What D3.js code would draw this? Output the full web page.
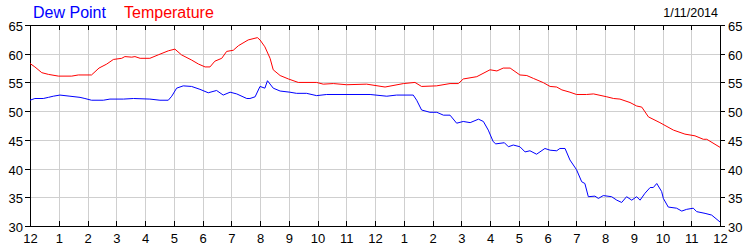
<!DOCTYPE html>
<meta charset="utf-8">
<style>
body { margin: 0; background: #fff; }
svg { font-family: "Liberation Sans", Arial, sans-serif; }
.grid line { stroke: #cfcfcf; shape-rendering: crispEdges; }
.axis text { font-size: 13px; fill: #000; }
.axis line { stroke: #000; shape-rendering: crispEdges; }
</style>
<svg id="chart" width="750" height="250"></svg>
<script src="https://cdnjs.cloudflare.com/ajax/libs/d3/7.8.5/d3.min.js"></script>
<script>

// hour labels along the bottom, midnight to midnight
var hourLabels = [12,1,2,3,4,5,6,7,8,9,10,11,12,1,2,3,4,5,6,7,8,9,10,11,12];
var tempTicks = [30,35,40,45,50,55,60,65];
var chartDate = "1/11/2014";

// temperature readings (hours since midnight, degrees F)
var tempHours = [0,0.17,0.41,0.64,0.99,1.45,1.68,2.14,2.4,2.67,2.9,3.19,3.3,3.54,3.65,3.83,4.17,4.46,4.81,5.04,
  5.27,5.62,5.86,6.09,6.26,6.43,6.67,6.84,7.07,7.25,7.59,7.91,8.0,8.17,8.35,8.46,8.7,8.99,9.33,9.97,
  10.2,10.55,11.01,11.71,12.35,12.99,13.39,13.62,14.14,14.61,14.9,15.07,15.54,16.0,16.24,16.46,16.7,17.04,17.28,17.51,
  17.86,18.09,18.32,18.5,18.78,19.01,19.36,19.6,20.06,20.3,20.52,20.87,21.1,21.28,21.51,21.91,22.38,22.78,23.13,23.42,23.54,24];
var tempValues = [58.3,57.7,56.7,56.4,56.1,56.1,56.3,56.3,57.5,58.2,59.0,59.2,59.5,59.4,59.5,59.2,59.2,59.8,60.5,60.8,
  59.8,58.9,58.2,57.7,57.7,58.7,59.2,60.4,60.6,61.4,62.4,62.8,62.4,61.2,59.2,57.2,56.2,55.6,55.0,55.0,
  54.7,54.8,54.6,54.7,54.2,54.8,55.0,54.3,54.4,54.8,54.8,55.6,56.0,57.2,57.0,57.5,57.5,56.3,56.2,55.7,
  54.95,54.3,54.2,53.7,53.3,52.9,52.9,53.0,52.5,52.2,52.1,51.5,50.9,50.7,49.0,48.0,46.7,46.0,45.7,45.1,45.1,43.7];

// dew point readings
var dewHours = [0,0.17,0.46,0.64,0.81,1.04,1.39,1.74,1.91,2.14,2.55,2.78,3.25,3.6,4.17,4.52,4.81,4.93,5.1,5.33,
  5.62,5.91,6.2,6.49,6.72,6.96,7.19,7.54,7.65,7.83,8.0,8.17,8.26,8.46,8.7,9.04,9.27,9.62,9.97,10.32,
  11.13,11.83,12.41,12.75,13.33,13.45,13.62,13.91,14.15,14.38,14.61,14.84,15.07,15.31,15.6,15.77,15.94,16.11,16.2,16.5,
  16.64,16.81,17.04,17.22,17.39,17.62,17.91,18.09,18.32,18.43,18.61,18.78,19.01,19.19,19.3,19.42,19.65,19.77,19.94,20.23,
  20.41,20.58,20.75,20.93,21.1,21.22,21.39,21.57,21.68,21.8,21.97,22.03,22.2,22.49,22.67,22.84,23.07,23.19,23.48,23.71,24];
var dewValues = [51.9,52.2,52.2,52.4,52.6,52.8,52.6,52.4,52.2,51.9,51.9,52.1,52.1,52.2,52.1,51.9,51.9,52.6,54.0,54.4,
  54.3,53.8,53.2,53.6,52.8,53.3,53.0,52.2,52.2,52.5,54.3,54.0,55.3,54.0,53.5,53.3,53.1,53.1,52.7,52.9,
  52.9,52.9,52.6,52.8,52.8,51.9,50.2,49.8,49.8,49.3,49.3,47.9,48.2,48.0,48.6,48.2,46.7,44.7,44.3,44.5,
  43.8,44.1,43.8,42.9,43.1,42.5,43.5,43.2,43.1,43.5,43.5,41.5,39.8,37.7,37.4,35.1,35.2,34.8,35.3,35.1,
  34.5,34.1,35.1,34.5,35.1,34.5,35.7,36.7,36.7,37.4,36.0,34.8,33.3,33.1,32.6,32.9,33.1,32.5,32.2,31.9,30.7];

var svg = d3.select("#chart"),
    margin = {top: 25, right: 30, bottom: 24, left: 30},
    width = +svg.attr("width") - margin.left - margin.right,
    height = +svg.attr("height") - margin.top - margin.bottom;

var x = d3.scaleLinear().domain([0, 24]).range([margin.left, margin.left + width]);
var y = d3.scaleLinear().domain([30, 65]).range([margin.top + height, margin.top]);

// grid
var grid = svg.append("g").attr("class", "grid");
grid.selectAll("line.v")
  .data(d3.range(1, 24))
  .enter().append("line")
  .attr("x1", function(d) { return Math.round(x(d)) + 0.5; })
  .attr("x2", function(d) { return Math.round(x(d)) + 0.5; })
  .attr("y1", y(65)).attr("y2", y(30));
grid.selectAll("line.h")
  .data(tempTicks.slice(1, -1))
  .enter().append("line")
  .attr("x1", x(0)).attr("x2", x(24))
  .attr("y1", function(d) { return Math.round(y(d)) + 0.5; })
  .attr("y2", function(d) { return Math.round(y(d)) + 0.5; });

// axes
svg.append("g")
  .attr("class", "axis")
  .attr("transform", "translate(0," + y(30) + ")")
  .call(d3.axisBottom(x).tickValues(d3.range(25)).tickFormat(function(d) { return hourLabels[d]; })
    .tickSize(-5).tickPadding(8))
  .call(function(g) { g.select(".domain").remove(); });

svg.append("g")
  .attr("class", "axis")
  .attr("transform", "translate(0," + y(65) + ")")
  .call(d3.axisTop(x).tickValues(d3.range(25)).tickFormat("").tickSize(-5))
  .call(function(g) { g.select(".domain").remove(); });

svg.append("g")
  .attr("class", "axis")
  .attr("transform", "translate(" + x(0) + ",0)")
  .call(d3.axisLeft(y).tickValues(tempTicks).tickSize(5).tickPadding(2))
  .call(function(g) { g.select(".domain").remove(); g.selectAll("text").attr("dy", "0.42em"); });

svg.append("g")
  .attr("class", "axis")
  .attr("transform", "translate(" + x(24) + ",0)")
  .call(d3.axisRight(y).tickValues(tempTicks).tickSize(5).tickPadding(3))
  .call(function(g) { g.select(".domain").remove(); g.selectAll("text").attr("dy", "0.42em"); });

// frame
svg.append("rect")
  .attr("x", x(0) + 0.5).attr("y", y(65) + 0.5)
  .attr("width", x(24) - x(0)).attr("height", y(30) - y(65))
  .attr("fill", "none").attr("stroke", "#000")
  .attr("shape-rendering", "crispEdges");

// series
var line = d3.line()
  .x(function(d) { return x(d[0]); })
  .y(function(d) { return y(d[1]); });

svg.append("path")
  .datum(d3.zip(tempHours, tempValues))
  .attr("fill", "none").attr("stroke", "#ff0000").attr("stroke-width", 1)
  .attr("d", line);

svg.append("path")
  .datum(d3.zip(dewHours, dewValues))
  .attr("fill", "none").attr("stroke", "#0000ff").attr("stroke-width", 1)
  .attr("d", line);

// legend and date
svg.append("text").attr("x", 33).attr("y", 18)
  .style("font-size", "16px").attr("fill", "#0000ff").text("Dew Point");
svg.append("text").attr("x", 124).attr("y", 18)
  .style("font-size", "16px").attr("fill", "#ff0000").text("Temperature");
svg.append("text").attr("x", 718).attr("y", 17)
  .attr("text-anchor", "end")
  .style("font-size", "12.5px").attr("fill", "#000").text(chartDate);

</script>
